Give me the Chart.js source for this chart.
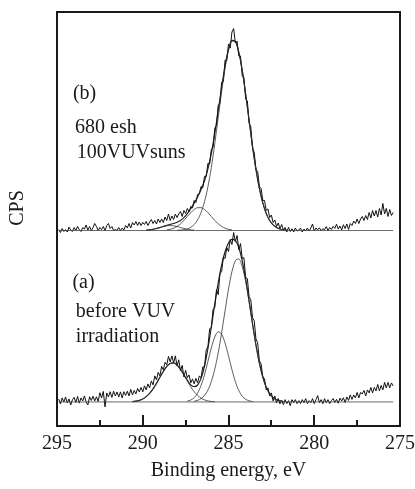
<!DOCTYPE html>
<html>
<head>
<meta charset="utf-8">
<script src="https://cdn.jsdelivr.net/npm/chart.js@4/dist/chart.umd.min.js"></script>
<style>
  html, body { margin: 0; padding: 0; background: #ffffff; }
  #wrap { width: 415px; height: 489px; }
</style>
</head>
<body>
<div id="wrap"><canvas id="c" width="415" height="489"></canvas></div>
<script>
// Binding energy grid (eV) of the measured spectra
const energy = [
  294.9,294.8,294.7,294.6,294.5,294.4,294.3,294.2,294.1,294.0,
  293.9,293.8,293.7,293.6,293.5,293.4,293.3,293.2,293.1,293.0,
  292.9,292.8,292.7,292.6,292.5,292.4,292.3,292.2,292.1,292.0,
  291.9,291.8,291.7,291.6,291.5,291.4,291.3,291.2,291.1,291.0,
  290.9,290.8,290.7,290.6,290.5,290.4,290.3,290.2,290.1,290.0,
  289.9,289.8,289.7,289.6,289.5,289.4,289.3,289.2,289.1,289.0,
  288.9,288.8,288.7,288.6,288.5,288.4,288.3,288.2,288.1,288.0,
  287.9,287.8,287.7,287.6,287.5,287.4,287.3,287.2,287.1,287.0,
  286.9,286.8,286.7,286.6,286.5,286.4,286.3,286.2,286.1,286.0,
  285.9,285.8,285.7,285.6,285.5,285.4,285.3,285.2,285.1,285.0,
  284.9,284.8,284.7,284.6,284.5,284.4,284.3,284.2,284.1,284.0,
  283.9,283.8,283.7,283.6,283.5,283.4,283.3,283.2,283.1,283.0,
  282.9,282.8,282.7,282.6,282.5,282.4,282.3,282.2,282.1,282.0,
  281.9,281.8,281.7,281.6,281.5,281.4,281.3,281.2,281.1,281.0,
  280.9,280.8,280.7,280.6,280.5,280.4,280.3,280.2,280.1,280.0,
  279.9,279.8,279.7,279.6,279.5,279.4,279.3,279.2,279.1,279.0,
  278.9,278.8,278.7,278.6,278.5,278.4,278.3,278.2,278.1,278.0,
  277.9,277.8,277.7,277.6,277.5,277.4,277.3,277.2,277.1,277.0,
  276.9,276.8,276.7,276.6,276.5,276.4,276.3,276.2,276.1,276.0,
  275.9,275.8,275.7,275.6,275.5,275.4
];

// (b) 680 esh, 100 VUV suns - counts above its own baseline (arb. units)
const cpsB = [
  1,-2,2,-1,1,-1.5,3.5,0.5,-1,3,
  0,4,1,-1,3,1.5,5.5,0.5,4,0,
  3,7,4,0,3,1,4,0,5,7,
  2,4,0,1,0,3,0,2.5,0.5,5,
  2.5,7,2.5,8,5.5,9,5,8.5,5,8,
  6,9,5,8.5,11,7,10,6.5,11.5,8,
  11.5,8,13.5,10,16.5,10,14.5,11,16.5,13,
  16.5,19,14,20,17,22,18.5,24,22.5,30,
  28,36,37,44,42.5,54,54,67,66.5,81,
  83,102,105,125,127,148,148.5,170,169.5,186,
  182,198,201.5,187,189,174,174,154,153,131,
  129.5,107,103.5,82,78,61,59,44,42,30,
  30,20,21.5,13,15.5,8,10.5,4,7.5,2,
  6,0.5,3,-1.5,3.2,-1,1.7,-1.5,2.5,-0.5,
  0.5,2.5,-1.5,1.5,-0.5,2.5,-0.5,2.5,6.5,-0.5,
  2.6,0.7,2.7,-0.2,1.8,0.9,3.9,0,3,1,
  4.1,2.2,6.3,1.4,4.5,0.6,5.8,2,6.5,1,
  7,5,9.5,7,11.5,7,11.5,14,10,15,
  11,18,12.5,20,14.5,20,13.5,22,15.5,27,
  16.5,22,14,21,15,18
];

// (a) before VUV irradiation - counts above its own baseline (arb. units)
const cpsA = [
  3,-2,4,0,5,-1,3,-3,2.2,4.5,
  -0.5,5.5,-1.2,4,1,6,0,-3,5.2,1.5,
  5.7,1,5.2,0.5,9.2,4,10.5,-5,9,5,
  10.2,4.5,10.7,6,10,5,10,4,10.2,6.5,
  10.7,6,12.5,7,11.5,8,13.5,10,14.5,10,
  16,12,18,14,21,17,26,22,29.5,26,
  35.5,32,39.5,37,45.5,40,46,39,46,36,
  42,31,36.5,25,31.5,24,27,19,23,18,
  23.5,19,26,24,35,35,52,55,73,74,
  92.5,94,112,107,128,130,144.5,143,154,150,
  162,157,169,160,166,152,158,143,144,124,
  123,105,102,84,81,63,59,41,38,25,
  23,12,14,6,9,1,6,-1,3.5,-2,
  1.5,-2.7,2.3,-1.7,1.3,-3.7,2.3,-0.7,2.3,-1.7,
  1.3,-1.7,2.3,-0.7,3.3,-1.7,1.3,-0.7,3.3,-1.7,
  2.3,6.3,-0.7,2.3,-1.7,3.3,-0.7,2.3,-1.7,1.3,
  3.4,-0.5,2.6,-1.3,3.8,1,4.2,-0.5,5,1.5,
  7,2.5,7,4,9.5,4,9.5,8,11.5,6,
  12,9,14.5,9,14.5,11,17.5,11,16.5,12,
  19.5,14,19.5,14,19,16
];

// Fitted components, [binding energy, counts]
const fitB_main = [[288.0,0.2],[287.8,0.4],[287.6,0.8],[287.4,1.6],[287.2,3.2],[287.0,6],[286.8,10.7],[286.6,18],[286.4,28.7],[286.2,43.7],[286.0,63],[285.8,86.7],[285.6,112.6],[285.4,138.7],[285.2,162],[285.0,179.7],[284.8,189],[284.6,188.5],[284.4,178],[284.2,160],[284.0,136],[283.8,110],[283.6,84],[283.4,61],[283.2,42],[283.0,27.5],[282.8,17],[282.6,10],[282.4,5.6],[282.2,3],[282.0,1.5],[281.8,0.7],[281.6,0.3]];
const fitB_mid = [[288.6,0.6],[288.4,1.2],[288.2,2.3],[288.0,4.1],[287.8,6.7],[287.6,10],[287.4,14],[287.2,17.8],[287.0,21],[286.8,22.8],[286.6,22.8],[286.4,21],[286.2,17.8],[286.0,14],[285.8,10],[285.6,6.7],[285.4,4.1],[285.2,2.3],[285.0,1.2],[284.8,0.6]];
const fitB_high = [[289.8,0.33],[289.6,0.7],[289.4,1.25],[289.2,2.06],[289.0,3],[288.8,4],[288.6,4.7],[288.4,5],[288.2,4.7],[288.0,4],[287.8,3],[287.6,2.06],[287.4,1.25],[287.2,0.7],[287.0,0.33]];
const fitB_sum = [[289.8,0.33],[289.6,0.7],[289.4,1.25],[289.2,2.06],[289.0,3],[288.8,4],[288.6,5.3],[288.4,6.2],[288.2,7],[288.0,8.3],[287.8,10.1],[287.6,12.9],[287.4,16.9],[287.2,21.7],[287.0,27.3],[286.8,33.5],[286.6,40.8],[286.4,49.7],[286.2,61.5],[286.0,77],[285.8,96.7],[285.6,119.3],[285.4,142.8],[285.2,164.3],[285.0,180.9],[284.8,189.6],[284.6,188.5],[284.4,178],[284.2,160],[284.0,136],[283.8,110],[283.6,84],[283.4,61],[283.2,42],[283.0,27.5],[282.8,17],[282.6,10],[282.4,5.6],[282.2,3],[282.0,1.5],[281.8,0.7],[281.6,0.3]];

const fitA_high = [[290.6,0.4],[290.4,0.8],[290.2,1.6],[290.0,3],[289.8,5.3],[289.6,8.6],[289.4,13],[289.2,18.5],[289.0,24.6],[288.8,30.5],[288.6,35.4],[288.4,38.4],[288.2,38.9],[288.0,36.8],[287.8,32.6],[287.6,27],[287.4,20.9],[287.2,15.1],[287.0,10.2],[286.8,6.5],[286.6,3.8],[286.4,2.1],[286.2,1],[286.0,0.5],[285.8,0.2]];
const fitA_mid = [[287.4,0.8],[287.2,1.9],[287.0,4.3],[286.8,8.8],[286.6,16.4],[286.4,27],[286.2,40.4],[286.0,54],[285.8,64.8],[285.6,69.9],[285.4,67.6],[285.2,58.8],[285.0,46],[284.8,32.2],[284.6,20.3],[284.4,11.5],[284.2,5.8],[284.0,2.7],[283.8,1.1],[283.6,0.4]];
const fitA_main = [[287.0,0.7],[286.8,1.6],[286.6,3.3],[286.4,6.5],[286.2,11.9],[286.0,20.4],[285.8,32.7],[285.6,49],[285.4,69],[285.2,91],[285.0,112.5],[284.8,130],[284.6,140.7],[284.4,142.6],[284.2,135],[284.0,120],[283.8,100],[283.6,77.8],[283.4,56.8],[283.2,38.8],[283.0,24.9],[282.8,14.8],[282.6,8.3],[282.4,4.4],[282.2,2.1],[282.0,1],[281.8,0.4]];
const fitA_sum = [[290.6,0.4],[290.4,0.8],[290.2,1.6],[290.0,3],[289.8,5.3],[289.6,8.6],[289.4,13],[289.2,18.5],[289.0,24.6],[288.8,30.5],[288.6,35.4],[288.4,38.4],[288.2,38.9],[288.0,36.8],[287.8,32.6],[287.6,27],[287.4,21.7],[287.2,17],[287.0,15.2],[286.8,16.9],[286.6,23.5],[286.4,35.6],[286.2,53.3],[286.0,74.9],[285.8,97.7],[285.6,118.9],[285.4,136.6],[285.2,149.8],[285.0,158.5],[284.8,162.2],[284.6,161],[284.4,154.1],[284.2,140.8],[284.0,122.7],[283.8,101.1],[283.6,78.2],[283.4,56.8],[283.2,38.8],[283.0,24.9],[282.8,14.8],[282.6,8.3],[282.4,4.4],[282.2,2.1],[282.0,1],[281.8,0.4]];

const baselineSpan = [294.9, 275.4];
const xTickStep = 5;
const xTitle = 'Binding energy, eV';
const yTitle = 'CPS';
const stackOffset = 171; // vertical shift of spectrum (b) above (a)

const notes = [
  { text: '(b)', e: 294.07, v: 302 },
  { text: '680 esh', e: 293.95, v: 268 },
  { text: '100VUVsuns', e: 293.85, v: 243 },
  { text: '(a)', e: 294.1, v: 114 },
  { text: 'before VUV', e: 293.9, v: 85 },
  { text: 'irradiation', e: 293.9, v: 60 }
];

const INK = '#1a1a1a';
const SERIF = "'Liberation Serif', 'Times New Roman', serif";

function series(xs, ys, off) { return xs.map((e, i) => ({ x: e, y: ys[i] + off })); }
function pairs(arr, off) { return arr.map(p => ({ x: p[0], y: p[1] + off })); }

function rawLine(data, w, color) {
  return { data, borderColor: color, borderWidth: w, pointRadius: 0, tension: 0, fill: false };
}
function fitLine(data, w, color) {
  return { data, borderColor: color, borderWidth: w, pointRadius: 0, tension: 0.4, cubicInterpolationMode: 'monotone', fill: false };
}

const datasets = [
  rawLine(baselineSpan.map(e => ({ x: e, y: stackOffset })), 0.8, '#444'),
  rawLine(baselineSpan.map(e => ({ x: e, y: 0 })), 0.8, '#444'),
  fitLine(pairs(fitB_high, stackOffset), 0.8, '#333'),
  fitLine(pairs(fitB_mid, stackOffset), 0.8, '#333'),
  fitLine(pairs(fitB_main, stackOffset), 0.8, '#333'),
  fitLine(pairs(fitA_high, 0), 0.8, '#333'),
  fitLine(pairs(fitA_mid, 0), 0.8, '#333'),
  fitLine(pairs(fitA_main, 0), 0.8, '#333'),
  rawLine(series(energy, cpsB, stackOffset), 1, '#111'),
  rawLine(series(energy, cpsA, 0), 1, '#111'),
  fitLine(pairs(fitB_sum, stackOffset), 1.2, '#222'),
  fitLine(pairs(fitA_sum, 0), 1.2, '#222')
];

const framePlugin = {
  id: 'frame',
  afterDatasetsDraw(chart) {
    const { ctx, chartArea: a, scales: { x, y } } = chart;
    ctx.save();
    ctx.strokeStyle = INK;
    ctx.lineWidth = 2;
    ctx.strokeRect(a.left, a.top, a.right - a.left, a.bottom - a.top);
    const vals = x.ticks.map(t => t.value).sort((p, q) => p - q);
    ctx.beginPath();
    vals.forEach(v => {
      const px = Math.round(x.getPixelForValue(v));
      ctx.moveTo(px, a.bottom); ctx.lineTo(px, a.bottom - 11);
    });
    for (let i = 0; i + 1 < vals.length; i++) {
      const px = Math.round(x.getPixelForValue((vals[i] + vals[i + 1]) / 2));
      ctx.moveTo(px, a.bottom); ctx.lineTo(px, a.bottom - 6);
    }
    ctx.stroke();
    // annotations
    ctx.fillStyle = INK;
    ctx.font = '20px ' + SERIF;
    ctx.textAlign = 'left';
    ctx.textBaseline = 'alphabetic';
    notes.forEach(n => ctx.fillText(n.text, x.getPixelForValue(n.e), y.getPixelForValue(n.v)));
    // y-axis title
    ctx.translate(18, 208);
    ctx.rotate(-Math.PI / 2);
    ctx.textAlign = 'center';
    ctx.textBaseline = 'middle';
    ctx.fillText(yTitle, 0, 0);
    ctx.restore();
  }
};

new Chart(document.getElementById('c'), {
  type: 'line',
  data: { datasets },
  options: {
    responsive: false,
    animation: false,
    parsing: true,
    layout: { padding: { left: 57, right: 14, top: 12, bottom: 0 } },
    plugins: { legend: { display: false }, tooltip: { enabled: false } },
    scales: {
      x: {
        type: 'linear', reverse: true, min: 275, max: 295,
        ticks: { stepSize: xTickStep, color: INK, padding: 0, maxRotation: 0, autoSkip: false,
                 font: { family: SERIF, size: 20 } },
        grid: { display: false, drawTicks: true, tickLength: 6 },
        border: { display: false },
        title: { display: true, text: xTitle, color: INK, font: { family: SERIF, size: 20 },
                 padding: { top: 3, bottom: 6 } }
      },
      y: { type: 'linear', display: false, min: -24, max: 389 }
    }
  },
  plugins: [framePlugin]
});
</script>
</body>
</html>
